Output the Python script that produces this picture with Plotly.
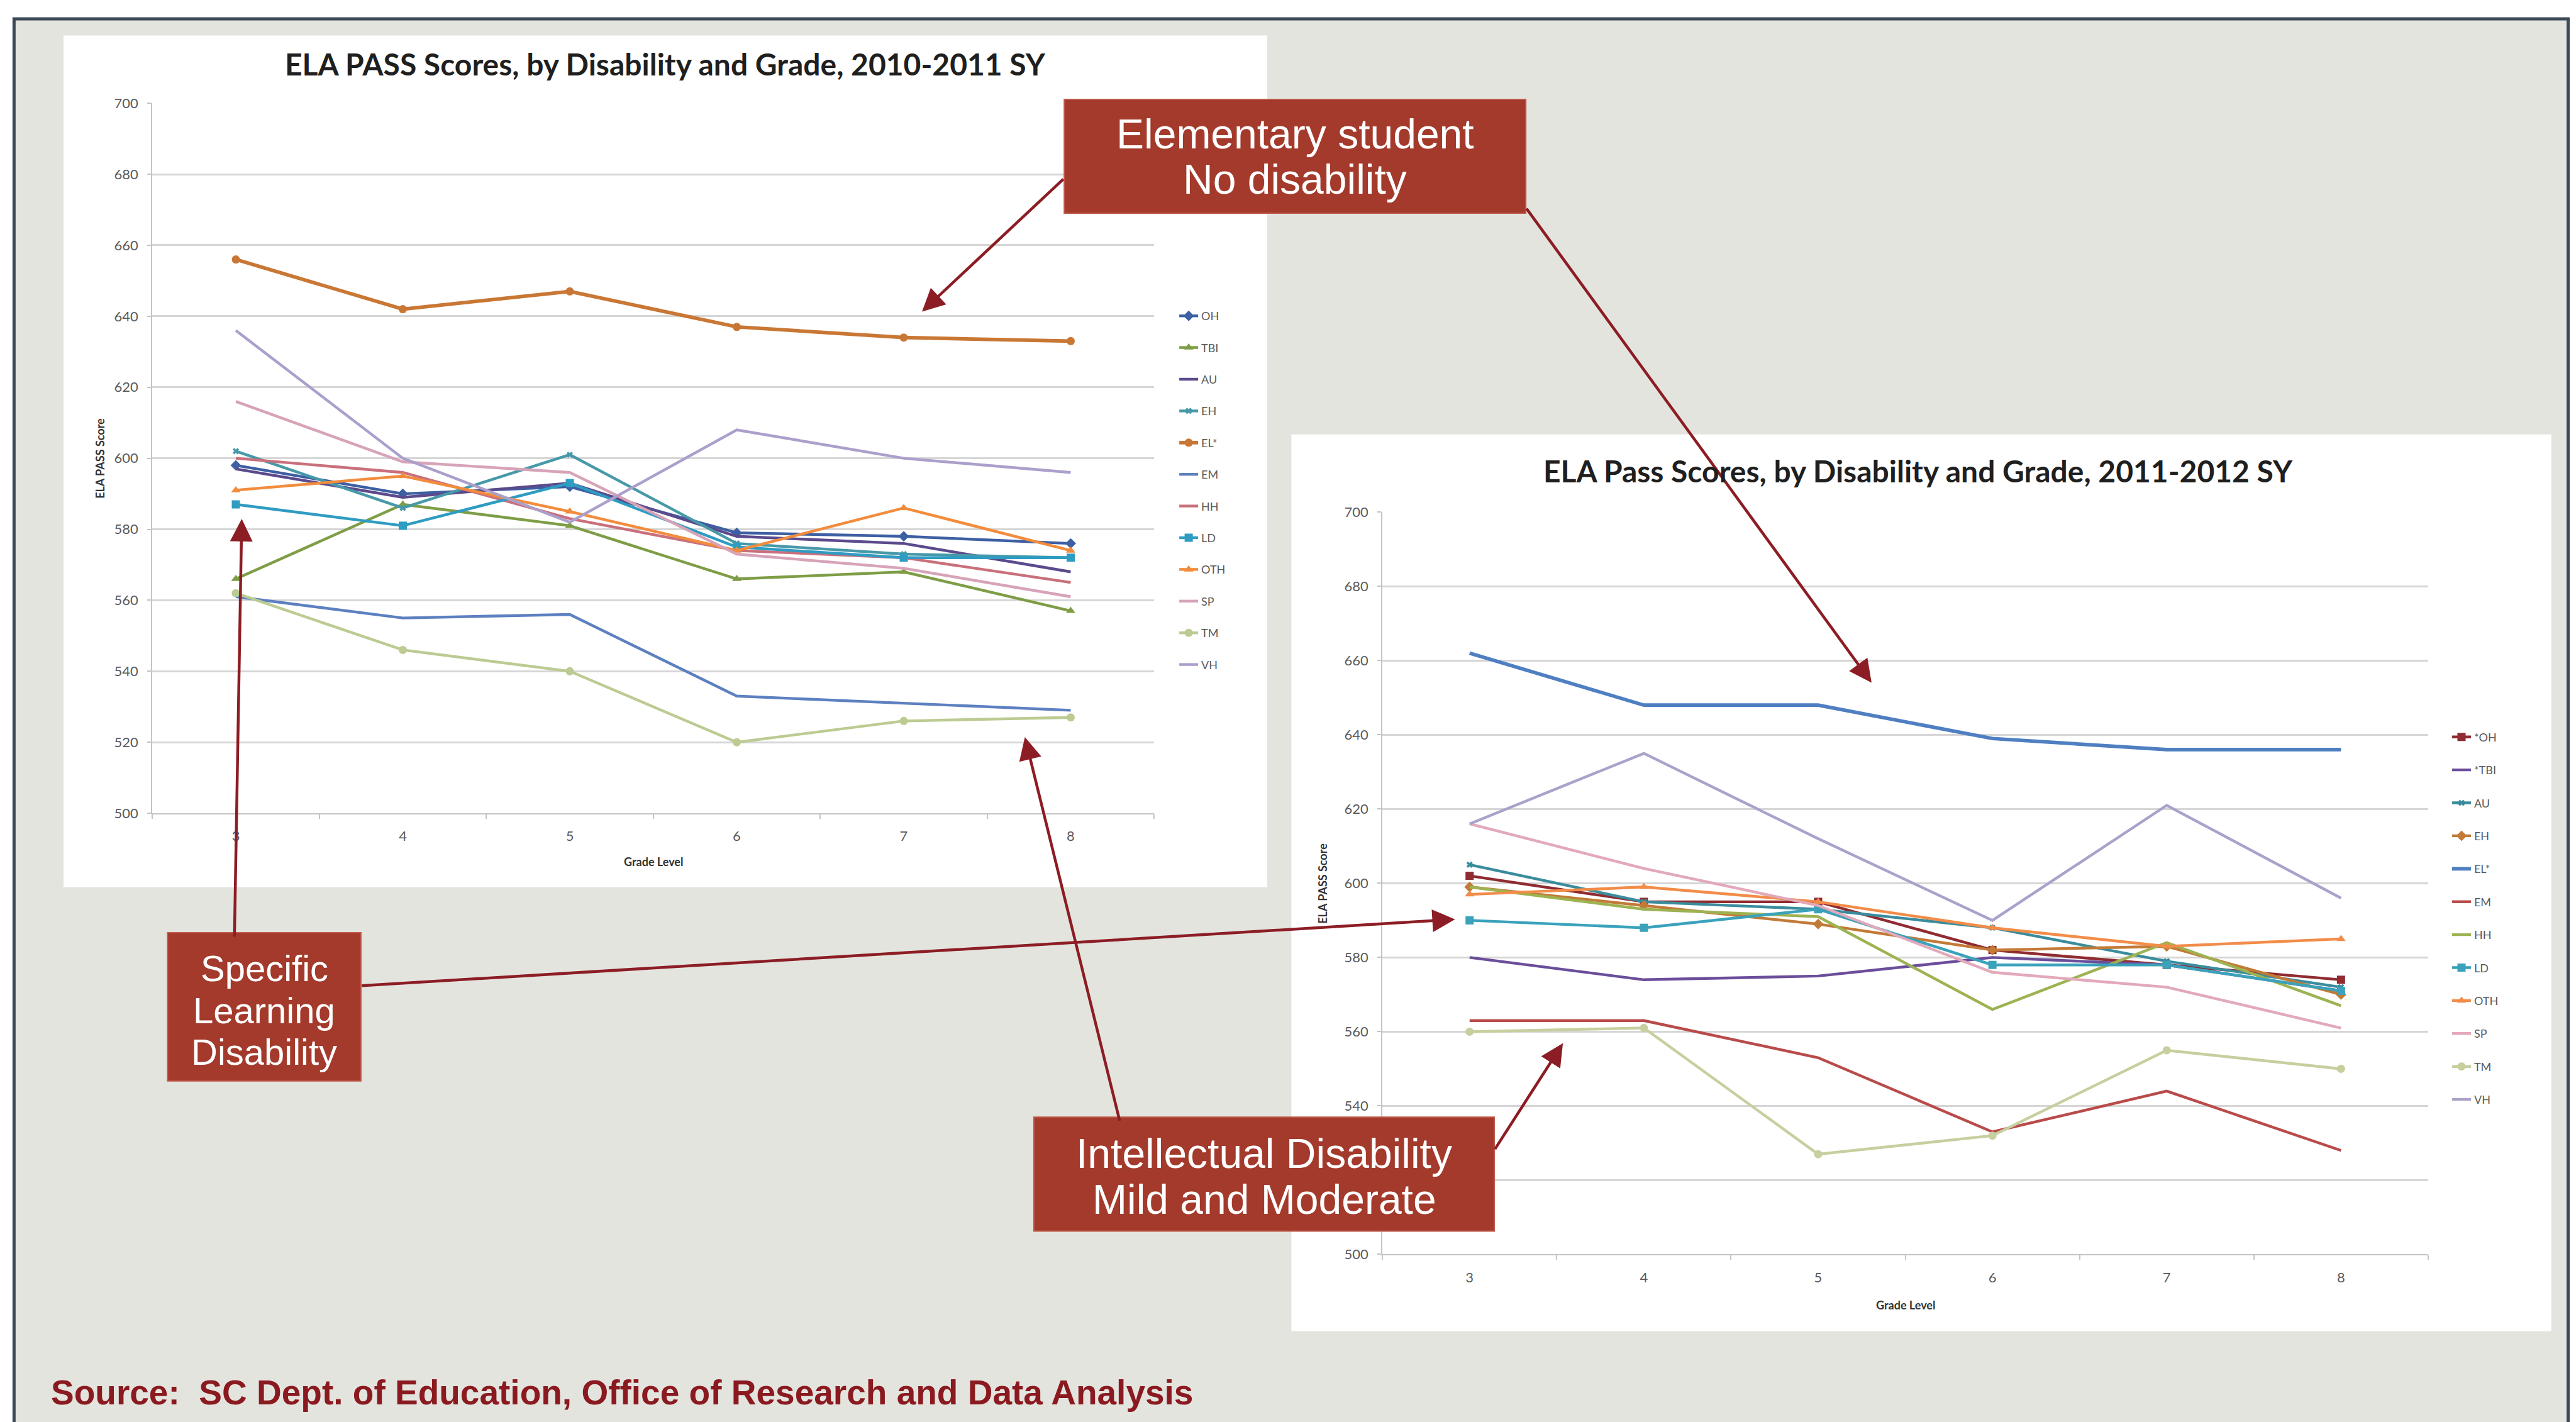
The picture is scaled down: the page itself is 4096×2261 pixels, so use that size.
import plotly.graph_objects as go

# ---------------- data ----------------
grades = [3, 4, 5, 6, 7, 8]
grade_labels = ["3", "4", "5", "6", "7", "8"]
score_ticks = [500, 520, 540, 560, 580, 600, 620, 640, 660, 680, 700]

# 2010-2011 school year, ELA PASS mean scores by disability group
sy1011_names = ["OH", "TBI", "AU", "EH", "EL*", "EM", "HH", "LD", "OTH", "SP", "TM", "VH"]
sy1011_OH = [598, 590, 592, 579, 578, 576]
sy1011_TBI = [566, 587, 581, 566, 568, 557]
sy1011_AU = [597, 589, 593, 578, 576, 568]
sy1011_EH = [602, 586, 601, 576, 573, 572]
sy1011_ELs = [656, 642, 647, 637, 634, 633]
sy1011_EM = [561, 555, 556, 533, 531, 529]
sy1011_HH = [600, 596, 583, 574, 572, 565]
sy1011_LD = [587, 581, 593, 575, 572, 572]
sy1011_OTH = [591, 595, 585, 574, 586, 574]
sy1011_SP = [616, 599, 596, 573, 569, 561]
sy1011_TM = [562, 546, 540, 520, 526, 527]
sy1011_VH = [636, 600, 582, 608, 600, 596]

# 2011-2012 school year
sy1112_names = ["*OH", "*TBI", "AU", "EH", "EL*", "EM", "HH", "LD", "OTH", "SP", "TM", "VH"]
sy1112_OH = [602, 595, 595, 582, 578, 574]
sy1112_TBI = [580, 574, 575, 580, 578, 571]
sy1112_AU = [605, 595, 593, 588, 579, 572]
sy1112_EH = [599, 594, 589, 582, 583, 570]
sy1112_ELs = [662, 648, 648, 639, 636, 636]
sy1112_EM = [563, 563, 553, 533, 544, 528]
sy1112_HH = [599, 593, 591, 566, 584, 567]
sy1112_LD = [590, 588, 593, 578, 578, 571]
sy1112_OTH = [597, 599, 595, 588, 583, 585]
sy1112_SP = [616, 604, 594, 576, 572, 561]
sy1112_TM = [560, 561, 527, 532, 555, 550]
sy1112_VH = [616, 635, 612, 590, 621, 596]

sy1011_values = [sy1011_OH, sy1011_TBI, sy1011_AU, sy1011_EH, sy1011_ELs, sy1011_EM,
                 sy1011_HH, sy1011_LD, sy1011_OTH, sy1011_SP, sy1011_TM, sy1011_VH]
sy1112_values = [sy1112_OH, sy1112_TBI, sy1112_AU, sy1112_EH, sy1112_ELs, sy1112_EM,
                 sy1112_HH, sy1112_LD, sy1112_OTH, sy1112_SP, sy1112_TM, sy1112_VH]

# ---------------- styles ----------------
sy1011_colors = ["#3d5fa3", "#7e9d46", "#5b4a8c", "#4799a8", "#c97734", "#5c80c0",
                 "#c9707c", "#2f9cc2", "#f28c3d", "#d7a3b8", "#bccb92", "#ab9fcb"]
sy1011_symbols = ["diamond", "triangle-up", None, "x", "circle", None,
                  None, "square", "triangle-up", None, "circle", None]
sy1112_colors = ["#8f2b31", "#6b4e9b", "#3a8c9c", "#c27a36", "#4f7fc1", "#b94b4b",
                 "#9db251", "#3aa2bb", "#f28c48", "#e2a9ba", "#c6cf9e", "#aaa2ca"]
sy1112_symbols = ["square", None, "x", "diamond", None, None,
                  None, "square", "triangle-up", None, "circle", None]

W, H = 4096, 2261
RW, RH = 4582, 2529
S = W / RW


def px(X):
    return X / RW


def py(Y):
    return 1 - Y / RH


fig = go.Figure()


def add_series(names, values, colors, symbols, xa, ya, legend, prefix, ls_width):
    for i, (nm, vals, col, sym) in enumerate(zip(names, values, colors, symbols)):
        lw = ls_width * (1.3 if nm == "EL*" else 1.0)
        kw = dict(mode="lines")
        if sym:
            kw = dict(mode="lines+markers",
                      marker=dict(symbol=sym, size=13 if sym != "x" else 9, color=col,
                                  line=dict(width=0)))
        fig.add_trace(go.Scatter(
            x=grades, y=vals, name=nm, xaxis=xa, yaxis=ya,
            line=dict(color=col, width=lw), legend=legend,
            legendgroup=f"{prefix}{i}", showlegend=True, hoverinfo="x+y+name", **kw))


add_series(sy1011_names, sy1011_values, sy1011_colors, sy1011_symbols, "x", "y", "legend", "a", 4.4)
add_series(sy1112_names, sy1112_values, sy1112_colors, sy1112_symbols, "x2", "y2", "legend2", "b", 4.4)

tick_font = dict(family="Lato, Carlito, sans-serif", size=22, color="#5a5a5a")
grid_col = "#d6d6d6"


def xaxis_def(x0, x1, anchor):
    return dict(domain=[px(x0), px(x1)], anchor=anchor, range=[2.5, 8.5],
                tickmode="array", tickvals=grades, ticktext=grade_labels,
                ticks="", showgrid=False, zeroline=False,
                showline=True, linecolor="#c4c4c4", linewidth=2,
                tickfont=tick_font, ticklabelstandoff=16,
                minor=dict(tickmode="array", tickvals=[2.5, 3.5, 4.5, 5.5, 6.5, 7.5, 8.5],
                           ticks="outside", ticklen=7, tickcolor="#c4c4c4", tickwidth=2,
                           showgrid=False),
                fixedrange=True)


def yaxis_def(y_bottom, y_top, anchor, hidden_labels=()):
    labels = ["" if v in hidden_labels else str(v) for v in score_ticks]
    return dict(domain=[py(y_bottom), py(y_top)], anchor=anchor, range=[500, 700],
                tickmode="array", tickvals=score_ticks, ticktext=labels,
                ticks="outside", ticklen=6, tickcolor="#c4c4c4", tickwidth=2,
                showgrid=True, gridcolor=grid_col, gridwidth=2.5, zeroline=False,
                showline=True, linecolor="#c4c4c4", linewidth=2,
                tickfont=tick_font, ticklabelstandoff=10, fixedrange=True)


# ---------------- background panels ----------------
shapes = [
    # slide frame
    dict(type="rect", xref="paper", yref="paper", x0=px(25), x1=px(4568), y0=py(2560), y1=py(18),
         fillcolor="#e4e4df", line=dict(color="#3b4957", width=5), layer="below"),
    # chart panels
    dict(type="rect", xref="paper", yref="paper", x0=px(113), x1=px(2254), y0=py(1581), y1=py(48),
         fillcolor="#ffffff", line=dict(width=0), layer="below"),
    dict(type="rect", xref="paper", yref="paper", x0=px(2297), x1=px(4538), y0=py(2380), y1=py(766),
         fillcolor="#ffffff", line=dict(width=0), layer="below"),
]

box_fill = "#a33a2b"
box_line = "#c0594a"
callouts = [
    # (x0, y0, x1, y1, lines, line centres, font size)
    (1893, 163, 2714, 368, ["Elementary student", "No disability"], [225, 307], 66),
    (298, 1663, 642, 1930, ["Specific", "Learning", "Disability"], [1727, 1803, 1877], 58),
    (1839, 1995, 2658, 2200, ["Intellectual Disability", "Mild and Moderate"], [2060, 2143], 66),
]

annotations = []
for (x0, y0, x1, y1, lines, centres, fs) in callouts:
    shapes.append(dict(type="rect", xref="paper", yref="paper",
                       x0=px(x0), x1=px(x1), y0=py(y1), y1=py(y0),
                       fillcolor=box_fill, line=dict(color=box_line, width=2), layer="above"))
    for txt, cy in zip(lines, centres):
        annotations.append(dict(text=txt, xref="paper", yref="paper",
                                x=px((x0 + x1) / 2), y=py(cy), xanchor="center", yanchor="middle",
                                showarrow=False,
                                font=dict(family="Liberation Sans, Arial, sans-serif", size=fs,
                                          color="#ffffff")))

# arrows: (tail_x, tail_y, head_x, head_y)
arrows = [
    (1893, 308, 1640, 545),
    (2714, 368, 3329, 1213),
    (417, 1663, 430, 918),
    (642, 1757, 2588, 1639),
    (1992, 1995, 1823, 1311),
    (2658, 2052, 2780, 1862),
]
for tx, ty, hx, hy in arrows:
    annotations.append(dict(text="", xref="paper", yref="paper", x=px(hx), y=py(hy),
                            axref="pixel", ayref="pixel", ax=(tx - hx) * S, ay=(ty - hy) * S,
                            showarrow=True, arrowhead=2, arrowsize=1.6, arrowwidth=4.5,
                            arrowcolor="#8c1d24", standoff=0))

# chart titles and axis titles
title_font = dict(family="Lato, Carlito, sans-serif", size=48, color="#1f1f1f", weight="bold")
axis_title_font = dict(family="Lato, Carlito, sans-serif", size=18, color="#333333", weight="bold")
annotations += [
    dict(text="ELA PASS Scores, by Disability and Grade, 2010-2011 SY", xref="paper", yref="paper",
         x=px(1184), y=py(99), xanchor="center", yanchor="middle", showarrow=False, font=title_font),
    dict(text="ELA Pass Scores, by Disability and Grade, 2011-2012 SY", xref="paper", yref="paper",
         x=px(3412), y=py(832), xanchor="center", yanchor="middle", showarrow=False, font=title_font),
    dict(text="ELA PASS Score", xref="paper", yref="paper", x=px(177), y=py(809), textangle=-90,
         xanchor="center", yanchor="middle", showarrow=False, font=axis_title_font),
    dict(text="ELA PASS Score", xref="paper", yref="paper", x=px(2353), y=py(1574), textangle=-90,
         xanchor="center", yanchor="middle", showarrow=False, font=axis_title_font),
    dict(text="Grade Level", xref="paper", yref="paper", x=px(1162), y=py(1535),
         xanchor="center", yanchor="middle", showarrow=False, font=axis_title_font),
    dict(text="Grade Level", xref="paper", yref="paper", x=px(3390), y=py(2333),
         xanchor="center", yanchor="middle", showarrow=False, font=axis_title_font),
    dict(text="Source:  SC Dept. of Education, Office of Research and Data Analysis",
         xref="paper", yref="paper", x=px(88), y=py(2490), xanchor="left", yanchor="middle",
         showarrow=False,
         font=dict(family="Liberation Sans Narrow, Arial Narrow, Liberation Sans, sans-serif",
                   size=55, color="#8a1a20", weight="bold")),
]

legend_font = dict(family="Lato, Carlito, sans-serif", size=18, color="#5a5a5a")


def legend_top(first_centre_Y):
    return 1 - (first_centre_Y * S - 16) / H


fig.update_layout(
    width=W, height=H,
    margin=dict(l=0, r=0, t=0, b=0),
    paper_bgcolor="#ffffff", plot_bgcolor="rgba(0,0,0,0)",
    xaxis=xaxis_def(271, 2053, "y"),
    yaxis=yaxis_def(1448, 170, "x"),
    xaxis2=xaxis_def(2459, 4319, "y2"),
    # the 520 label of the right chart sits under the call-out box
    yaxis2=yaxis_def(2242, 906, "x2", hidden_labels=(520,)),
    legend=dict(x=px(2092), y=legend_top(550), xanchor="left", yanchor="top",
                font=legend_font, bgcolor="rgba(0,0,0,0)", traceorder="grouped",
                tracegroupgap=24, itemwidth=30),
    legend2=dict(x=px(4356), y=legend_top(1308), xanchor="left", yanchor="top",
                 font=legend_font, bgcolor="rgba(0,0,0,0)", traceorder="grouped",
                 tracegroupgap=26, itemwidth=30),
    shapes=shapes,
    annotations=annotations,
    showlegend=True,
)

fig.write_html("out.html")
